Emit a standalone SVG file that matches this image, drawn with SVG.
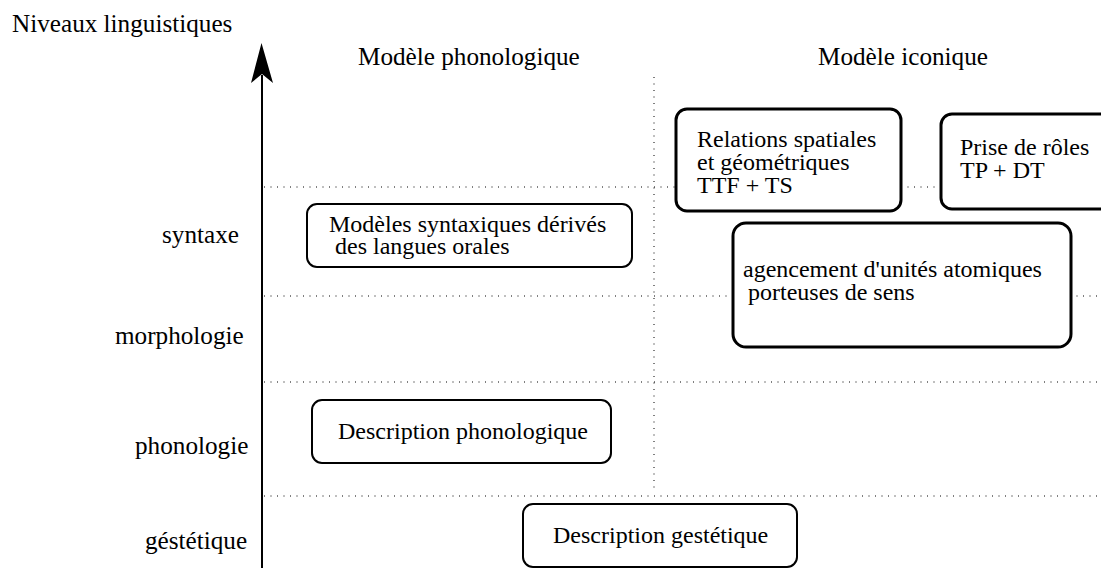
<svg xmlns="http://www.w3.org/2000/svg" width="1101" height="568" viewBox="0 0 1101 568">
<style>
.t{font-family:'Liberation Serif','Times New Roman',serif;font-size:24px;fill:#000}
.h{font-size:25.2px}
.dot{stroke:#000;stroke-width:1;stroke-dasharray:1 5.5;fill:none}
.box{fill:#fff;stroke:#000;stroke-width:2}
.bold{fill:#fff;stroke:#000;stroke-width:3}
</style>
<rect width="1101" height="568" fill="#fff"/>
<g id="grid">
<line class="dot" x1="264" y1="187" x2="1101" y2="187"/>
<line class="dot" x1="264" y1="296" x2="1101" y2="296"/>
<line class="dot" x1="264" y1="382" x2="1101" y2="382"/>
<line class="dot" x1="264" y1="496" x2="1101" y2="496"/>
<line class="dot" x1="654" y1="77" x2="654" y2="490"/>
</g>
<g id="axis">
<line x1="262" y1="75" x2="262" y2="568" stroke="#000" stroke-width="2"/>
<path d="M261.5 43 L273 83 L262 74 L251 83 Z" fill="#000"/>
<text class="t h" x="12" y="32">Niveaux linguistiques</text>
<text class="t h" x="358" y="65">Modèle phonologique</text>
<text class="t h" x="818" y="65">Modèle iconique</text>
<text class="t h" x="162" y="243">syntaxe</text>
<text class="t h" x="115" y="344">morphologie</text>
<text class="t h" x="135" y="454">phonologie</text>
<text class="t h" x="145" y="549">géstétique</text>
</g>
<g id="n-syntax">
<rect class="box" x="307" y="204" width="325" height="63" rx="10"/>
<text class="t" x="329" y="232">Modèles syntaxiques dérivés</text>
<text class="t" x="335" y="254">des langues orales</text>
</g>
<g id="n-phono">
<rect class="box" x="312" y="400" width="299" height="63" rx="10"/>
<text class="t" x="338" y="439">Description phonologique</text>
</g>
<g id="n-geste">
<rect class="box" x="523" y="504" width="274" height="63" rx="10"/>
<text class="t" x="553" y="543">Description gestétique</text>
</g>
<g id="n-relations">
<rect class="bold" x="676" y="109" width="225" height="102" rx="11"/>
<text class="t" x="697" y="147">Relations spatiales</text>
<text class="t" x="697" y="170">et géométriques</text>
<text class="t" x="697" y="193">TTF + TS</text>
</g>
<g id="n-roles">
<rect class="bold" x="941" y="114" width="180" height="95" rx="11"/>
<text class="t" x="960" y="155">Prise de rôles</text>
<text class="t" x="960" y="178">TP + DT</text>
</g>
<g id="n-agencement">
<rect class="bold" x="733" y="223" width="338" height="124" rx="13"/>
<text class="t" x="743" y="277">agencement d'unités atomiques</text>
<text class="t" x="748" y="300">porteuses de sens</text>
</g>
</svg>
